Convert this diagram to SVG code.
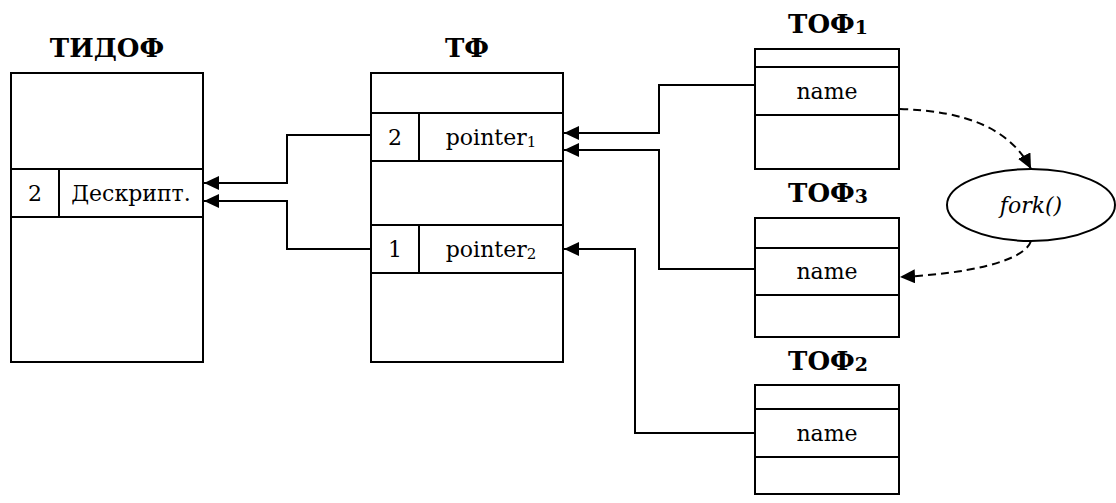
<svg xmlns="http://www.w3.org/2000/svg" width="1116" height="503" viewBox="0 0 1116 503" font-family="DejaVu Serif, Liberation Serif, serif">
<style>
.box{fill:#fff;stroke:#000;stroke-width:2}
.ln{stroke:#000;stroke-width:2;fill:none}
.title{font-weight:bold;font-size:26px;text-anchor:middle;fill:#000}
.t{font-size:22px;text-anchor:middle;fill:#000}
.conn{stroke:#000;stroke-width:2;fill:none;marker-end:url(#arr)}
.dash{stroke:#000;stroke-width:2;fill:none;stroke-dasharray:8,5;marker-end:url(#arr)}
</style>
<defs>
<marker id="arr" markerUnits="userSpaceOnUse" markerWidth="16" markerHeight="16" refX="15" refY="7" orient="auto">
<path d="M0,0 L15,7 L0,14 Z" fill="#000"/>
</marker>
</defs>
<g id="tidof">
<text class="title" x="107" y="57">ТИДОФ</text>
<rect class="box" x="11" y="73" width="192" height="289"/>
<line class="ln" x1="11" y1="169" x2="203" y2="169"/>
<line class="ln" x1="11" y1="217" x2="203" y2="217"/>
<line class="ln" x1="59" y1="169" x2="59" y2="217"/>
<text class="t" x="35" y="201">2</text>
<text class="t" x="131" y="201">Дескрипт.</text>
</g>
<g id="tf">
<text class="title" x="467" y="57">ТФ</text>
<rect class="box" x="371" y="73" width="192" height="289"/>
<line class="ln" x1="371" y1="113" x2="563" y2="113"/>
<line class="ln" x1="371" y1="161" x2="563" y2="161"/>
<line class="ln" x1="371" y1="225" x2="563" y2="225"/>
<line class="ln" x1="371" y1="273" x2="563" y2="273"/>
<line class="ln" x1="419" y1="113" x2="419" y2="161"/>
<line class="ln" x1="419" y1="225" x2="419" y2="273"/>
<text class="t" x="395" y="145">2</text>
<text class="t" x="491" y="145">pointer<tspan font-size="15" dy="2">1</tspan></text>
<text class="t" x="395" y="257">1</text>
<text class="t" x="491" y="257">pointer<tspan font-size="15" dy="2">2</tspan></text>
</g>
<g id="tof1">
<text class="title" x="828" y="33">ТОФ<tspan font-size="19" dy="1">1</tspan></text>
<rect class="box" x="755" y="49" width="144" height="120"/>
<line class="ln" x1="755" y1="67" x2="899" y2="67"/>
<line class="ln" x1="755" y1="115" x2="899" y2="115"/>
<text class="t" x="827" y="99">name</text>
</g>
<g id="tof3">
<text class="title" x="828" y="202">ТОФ<tspan font-size="19" dy="1">3</tspan></text>
<rect class="box" x="755" y="218" width="144" height="119"/>
<line class="ln" x1="755" y1="248" x2="899" y2="248"/>
<line class="ln" x1="755" y1="295" x2="899" y2="295"/>
<text class="t" x="827" y="279">name</text>
</g>
<g id="tof2">
<text class="title" x="828" y="370">ТОФ<tspan font-size="19" dy="1">2</tspan></text>
<rect class="box" x="755" y="385" width="144" height="109"/>
<line class="ln" x1="755" y1="409" x2="899" y2="409"/>
<line class="ln" x1="755" y1="457" x2="899" y2="457"/>
<text class="t" x="827" y="441">name</text>
</g>
<g id="fork">
<ellipse class="box" cx="1031" cy="205" rx="84" ry="36"/>
<text class="t" x="1031" y="213" font-style="italic">fork()</text>
</g>
<g id="connectors">
<path class="conn" d="M755,85 H659 V133 H564"/>
<path class="conn" d="M755,269 H659 V150 H564"/>
<path class="conn" d="M755,433 H635 V249 H564"/>
<path class="conn" d="M371,135 H287 V183 H204"/>
<path class="conn" d="M371,249 H287 V201 H204"/>
<path class="dash" d="M900,109 C965,111 1010,128 1031,169"/>
<path class="dash" d="M1031,241 C1024,262 965,274 900,277"/>
</g>
</svg>
